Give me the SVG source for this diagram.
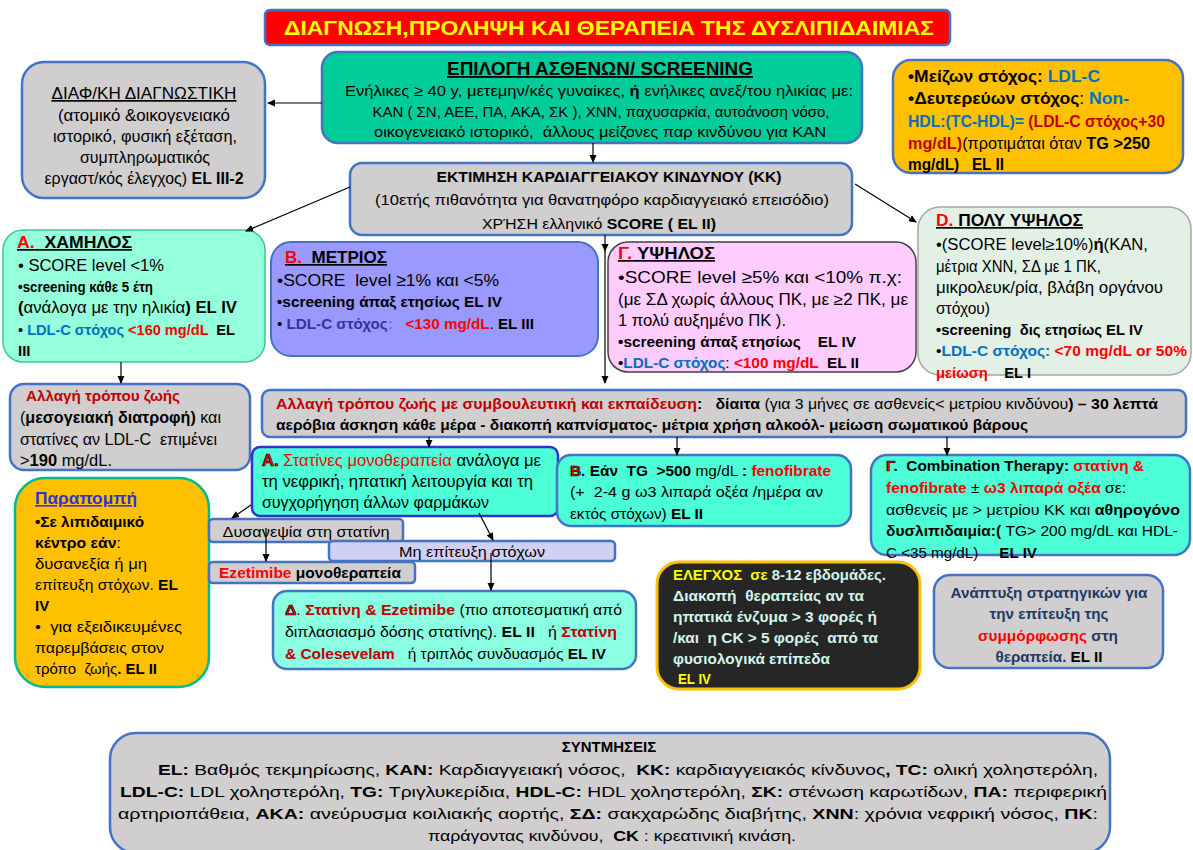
<svg xmlns="http://www.w3.org/2000/svg" width="1193" height="850" viewBox="0 0 1193 850">
<defs>
<style>
text{font-family:'Liberation Sans','DejaVu Sans',sans-serif;font-size:16px;fill:#000;white-space:pre}
.b{font-weight:bold}
.bt{font-weight:bold;font-size:15px}
.n{font-weight:normal}
.u{text-decoration:underline}
.r{fill:#ff0000}
.dr{fill:#c00000}
.bl{fill:#0070c0}
.ol{fill:#ff0000;stroke:#000;stroke-width:0.7;font-weight:bold}
.gray{fill:#d0cece;stroke:#4472c4;stroke-width:2.5}
.aqua{fill:#4dffd6;stroke:#4472c4;stroke-width:2.5}
.c{text-anchor:middle}
.mint{fill:#d2f5ec}
.sm{font-size:15px}
.xs{font-size:14px}
.ln{stroke:#000;stroke-width:1.2;fill:none;marker-end:url(#ah)}
</style>
<marker id="ah" markerWidth="8" markerHeight="8" refX="7" refY="4" orient="auto" markerUnits="userSpaceOnUse">
<path d="M0,0.5 L8,4 L0,7.5 z" fill="#000"/>
</marker>
</defs>
<rect width="1193" height="850" fill="#ffffff"/>

<g id="title">
<rect x="265" y="10" width="685" height="35" rx="5" fill="#ff0000" stroke="#4472c4" stroke-width="2.5"/>
<text x="609" y="35" class="b c" style="font-size:20px;fill:#ffff00" textLength="650" lengthAdjust="spacingAndGlyphs">ΔΙΑΓΝΩΣΗ,ΠΡΟΛΗΨΗ ΚΑΙ ΘΕΡΑΠΕΙΑ ΤΗΣ ΔΥΣΛΙΠΙΔΑΙΜΙΑΣ</text>
</g>

<g id="screening">
<rect x="322" y="52" width="540" height="91" rx="16" fill="#00cc99" stroke="#4472c4" stroke-width="2.5"/>
<text x="600" y="75" class="b u c" style="font-size:18px" textLength="306" lengthAdjust="spacingAndGlyphs">ΕΠΙΛΟΓΗ ΑΣΘΕΝΩΝ/ SCREENING</text>
<text x="599" y="96" class="c sm" textLength="508" lengthAdjust="spacingAndGlyphs">Ενήλικες ≥ 40 y, μετεμην/κές γυναίκες, <tspan class="b">ή</tspan> ενήλικες ανεξ/του ηλικίας με:</text>
<text x="601" y="117" class="c sm" textLength="457" lengthAdjust="spacingAndGlyphs">ΚΑΝ ( ΣΝ, ΑΕΕ, ΠΑ, ΑΚΑ, ΣΚ ), ΧΝΝ, παχυσαρκία, αυτοάνοση νόσο,</text>
<text x="600" y="137" class="c sm" textLength="452" lengthAdjust="spacingAndGlyphs">οικογενειακό ιστορικό,  άλλους μείζονες παρ κινδύνου για ΚΑΝ</text>
</g>

<g id="diagnostic">
<rect x="22" y="62" width="243" height="136" rx="22" class="gray"/>
<text x="144" y="99" class="u c" style="font-size:17px" textLength="185" lengthAdjust="spacingAndGlyphs">ΔΙΑΦ/ΚΗ ΔΙΑΓΝΩΣΤΙΚΗ</text>
<text x="144" y="121" class="c" textLength="172" lengthAdjust="spacingAndGlyphs">(ατομικό &amp;οικογενειακό</text>
<text x="145" y="142" class="c" textLength="184" lengthAdjust="spacingAndGlyphs">ιστορικό, φυσική εξέταση,</text>
<text x="145" y="163" class="c" textLength="130" lengthAdjust="spacingAndGlyphs">συμπληρωματικός</text>
<text x="144" y="184" class="c" textLength="199" lengthAdjust="spacingAndGlyphs">εργαστ/κός έλεγχος) <tspan class="b">EL III-2</tspan></text>
</g>

<g id="goals">
<rect x="893" y="60" width="290" height="113" rx="18" fill="#ffc000" stroke="#4472c4" stroke-width="2.5"/>
<text x="908" y="82" class="b" textLength="192" lengthAdjust="spacingAndGlyphs">•Μείζων στόχος: <tspan class="bl">LDL-C</tspan></text>
<text x="908" y="104" class="b" textLength="221" lengthAdjust="spacingAndGlyphs">•Δευτερεύων στόχος<tspan class="n">:</tspan> <tspan class="bl">Non-</tspan></text>
<text x="908" y="127" class="b" textLength="257" lengthAdjust="spacingAndGlyphs"><tspan class="bl">HDL:(TC-HDL)=</tspan> <tspan class="dr">(LDL-C στόχος+30</tspan></text>
<text x="908" y="149" class="b" textLength="242" lengthAdjust="spacingAndGlyphs"><tspan class="dr">mg/dL)</tspan><tspan class="n">(προτιμάται όταν </tspan>TG &gt;250</text>
<text x="908" y="170" class="b" textLength="96" lengthAdjust="spacingAndGlyphs">mg/dL)   EL II</text>
</g>

<g id="risk">
<rect x="350" y="163" width="502" height="72" rx="12" class="gray"/>
<text x="609" y="182" class="b c sm" textLength="345" lengthAdjust="spacingAndGlyphs">ΕΚΤΙΜΗΣΗ ΚΑΡΔΙΑΓΓΕΙΑΚΟΥ ΚΙΝΔΥΝΟΥ (ΚΚ)</text>
<text x="602" y="205" class="c sm" textLength="454" lengthAdjust="spacingAndGlyphs">(10ετής πιθανότητα για θανατηφόρο καρδιαγγειακό επεισόδιο)</text>
<text x="599" y="229" class="c sm" textLength="234" lengthAdjust="spacingAndGlyphs">ΧΡΉΣΗ ελληνικό <tspan class="b">SCORE ( EL II)</tspan></text>
</g>

<g id="low">
<rect x="3" y="230" width="262" height="132" rx="20" fill="#96ffdb" stroke="#3cc89a" stroke-width="1.5"/>
<text x="17" y="248" class="b u" style="font-size:17px" textLength="115" lengthAdjust="spacingAndGlyphs"><tspan class="r">A.</tspan>  ΧΑΜΗΛΟΣ</text>
<text x="18" y="271" style="font-size:17px" textLength="146" lengthAdjust="spacingAndGlyphs">• SCORE level &lt;1%</text>
<text x="18" y="292" class="bt" textLength="135" lengthAdjust="spacingAndGlyphs">•screening κάθε 5 έτη</text>
<text x="18" y="313" textLength="219" lengthAdjust="spacingAndGlyphs"><tspan class="b">(</tspan>ανάλογα με την ηλικία<tspan class="b">) EL IV</tspan></text>
<text x="18" y="335" class="bt" textLength="217" lengthAdjust="spacingAndGlyphs"><tspan class="n">• </tspan><tspan class="bl">LDL-C στόχος</tspan> <tspan class="r">&lt;160 mg/dL</tspan>  EL</text>
<text x="18" y="356" class="bt">III</text>
</g>

<g id="moderate">
<rect x="271" y="242" width="327" height="114" rx="20" fill="#9999ff" stroke="#4472c4" stroke-width="2"/>
<text x="285" y="263" class="b u" style="font-size:17px" textLength="102" lengthAdjust="spacingAndGlyphs"><tspan class="r">B.</tspan>  ΜΕΤΡΙΟΣ</text>
<text x="277" y="286" style="font-size:17px" textLength="222" lengthAdjust="spacingAndGlyphs">•SCORE  level ≥1% και &lt;5%</text>
<text x="277" y="307" class="bt" textLength="225" lengthAdjust="spacingAndGlyphs">•screening άπαξ ετησίως EL IV</text>
<text x="277" y="329" class="bt" textLength="257" lengthAdjust="spacingAndGlyphs"><tspan class="n">• </tspan><tspan style="fill:#333399">LDL-C στόχος</tspan><tspan style="fill:#3399cc">:</tspan>   <tspan class="r">&lt;130 mg/dL</tspan><tspan class="n">.</tspan> EL III</text>
</g>

<g id="high">
<rect x="608" y="242" width="308" height="130" rx="20" fill="#ffccff" stroke="#404040" stroke-width="1.5"/>
<text x="618" y="259" class="b u" style="font-size:17px" textLength="97" lengthAdjust="spacingAndGlyphs"><tspan class="r">Γ.</tspan> ΥΨΗΛΟΣ</text>
<text x="618" y="283" style="font-size:17px" textLength="284" lengthAdjust="spacingAndGlyphs">•SCORE level ≥5% και &lt;10% π.χ:</text>
<text x="618" y="305" textLength="290" lengthAdjust="spacingAndGlyphs">(με ΣΔ χωρίς άλλους ΠΚ, με ≥2 ΠΚ, με</text>
<text x="618" y="326" textLength="168" lengthAdjust="spacingAndGlyphs">1 πολύ αυξημένο ΠΚ ).</text>
<text x="618" y="347" class="bt" textLength="238" lengthAdjust="spacingAndGlyphs">•screening άπαξ ετησίως    EL IV</text>
<text x="618" y="368" class="bt" textLength="241" lengthAdjust="spacingAndGlyphs"><tspan class="n">•</tspan><tspan class="bl">LDL-C στόχος</tspan><tspan class="n">: </tspan><tspan class="r">&lt;100 mg/dL</tspan>  EL II</text>
</g>

<g id="veryhigh">
<rect x="918" y="207" width="273" height="168" rx="22" fill="#e2f0e5" stroke="#a6a6a6" stroke-width="1.5"/>
<text x="936" y="226" class="b u" style="font-size:17px" textLength="147" lengthAdjust="spacingAndGlyphs"><tspan class="r">D.</tspan> ΠΟΛΥ ΥΨΗΛΟΣ</text>
<text x="936" y="250" textLength="212" lengthAdjust="spacingAndGlyphs">•(SCORE level≥10%)<tspan class="b">ή</tspan>(ΚΑΝ,</text>
<text x="936" y="272" textLength="165" lengthAdjust="spacingAndGlyphs">μέτρια ΧΝΝ, ΣΔ με 1 ΠΚ,</text>
<text x="936" y="293" textLength="227" lengthAdjust="spacingAndGlyphs">μικρολευκ/ρία, βλάβη οργάνου</text>
<text x="936" y="314" textLength="54" lengthAdjust="spacingAndGlyphs">στόχου)</text>
<text x="936" y="335" class="bt" textLength="207" lengthAdjust="spacingAndGlyphs">•screening  δις ετησίως EL IV</text>
<text x="936" y="356" class="bt" textLength="251" lengthAdjust="spacingAndGlyphs"><tspan class="n">•</tspan><tspan class="bl">LDL-C στόχος:</tspan> <tspan class="r">&lt;70 mg/dL or 50%</tspan></text>
<text x="936" y="378" class="bt" textLength="95" lengthAdjust="spacingAndGlyphs"><tspan class="r">μείωση</tspan>    EL I</text>
</g>

<g id="lifestyle-low">
<rect x="10" y="384" width="240" height="86" rx="14" class="gray"/>
<text x="26" y="401" class="bt dr" textLength="154" lengthAdjust="spacingAndGlyphs">Αλλαγή τρόπου ζωής</text>
<text x="20" y="423" textLength="201" lengthAdjust="spacingAndGlyphs">(<tspan class="b">μεσογειακή διατροφή)</tspan> και</text>
<text x="20" y="445" textLength="197" lengthAdjust="spacingAndGlyphs">στατίνες αν LDL-C  επιμένει</text>
<text x="20" y="466" textLength="92" lengthAdjust="spacingAndGlyphs">&gt;<tspan class="b">190</tspan> mg/dL.</text>
</g>

<g id="lifestyle">
<rect x="262" y="390" width="924" height="47" rx="8" class="gray"/>
<text x="276" y="409" class="bt" textLength="882" lengthAdjust="spacingAndGlyphs"><tspan class="dr">Αλλαγή τρόπου ζωής με συμβουλευτική και εκπαίδευση</tspan>:   δίαιτα <tspan class="n">(για 3 μήνες σε ασθενείς&lt; μετρίου κινδύνου</tspan>) – 30 λεπτά</text>
<text x="276" y="430" class="bt" textLength="752" lengthAdjust="spacingAndGlyphs">αερόβια άσκηση κάθε μέρα - διακοπή καπνίσματος- μέτρια χρήση αλκοόλ- μείωση σωματικού βάρους</text>
</g>

<g id="statin">
<rect x="252" y="447" width="306" height="69" rx="8" fill="#4dffd6" stroke="#3333cc" stroke-width="2.5"/>
<text x="262" y="466" textLength="279" lengthAdjust="spacingAndGlyphs"><tspan class="ol">Α.</tspan> <tspan class="r">Στατίνες μονοθεραπεία</tspan> ανάλογα με</text>
<text x="262" y="487" textLength="271" lengthAdjust="spacingAndGlyphs">τη νεφρική, ηπατική λειτουργία και τη</text>
<text x="262" y="508" textLength="227" lengthAdjust="spacingAndGlyphs">συγχορήγηση άλλων φαρμάκων</text>
</g>

<g id="fenofibrate">
<rect x="557" y="455" width="294" height="71" rx="14" class="aqua"/>
<text x="570" y="476" class="bt" textLength="261" lengthAdjust="spacingAndGlyphs"><tspan class="ol">B</tspan>. Εάν  TG  &gt;500<tspan class="n"> mg/dL </tspan>: <tspan class="r">fenofibrate</tspan></text>
<text x="570" y="497" class="sm" textLength="253" lengthAdjust="spacingAndGlyphs">(+  2-4 g ω3 λιπαρά οξέα /ημέρα αν</text>
<text x="570" y="519" class="sm" textLength="133" lengthAdjust="spacingAndGlyphs">εκτός στόχων) <tspan class="b">EL II</tspan></text>
</g>

<g id="combination">
<rect x="871" y="455" width="319" height="100" rx="16" class="aqua"/>
<text x="886" y="471" class="bt" textLength="258" lengthAdjust="spacingAndGlyphs"><tspan class="ol">Γ</tspan>.  Combination Therapy: <tspan class="r">στατίνη &amp;</tspan></text>
<text x="886" y="493" class="bt" textLength="240" lengthAdjust="spacingAndGlyphs"><tspan class="r">fenofibrate</tspan><tspan class="n"> ± </tspan><tspan class="r">ω3 λιπαρά οξέα</tspan><tspan class="n"> σε:</tspan></text>
<text x="886" y="515" class="sm" textLength="294" lengthAdjust="spacingAndGlyphs">ασθενείς με &gt; μετρίου ΚΚ και <tspan class="b">αθηρογόνο</tspan></text>
<text x="886" y="536" class="sm" textLength="292" lengthAdjust="spacingAndGlyphs"><tspan class="b">δυσλιπιδαιμία:(</tspan> TG&gt; 200 mg/dL και HDL-</text>
<text x="886" y="558" class="xs" textLength="151" lengthAdjust="spacingAndGlyphs">C &lt;35 mg/dL)     <tspan class="b">EL IV</tspan></text>
</g>

<g id="referral">
<rect x="15" y="478" width="194" height="209" rx="30" fill="#ffc000" stroke="#00b894" stroke-width="2.5"/>
<text x="35" y="504" class="b u" style="font-size:16px;fill:#3333cc" textLength="102" lengthAdjust="spacingAndGlyphs">Παραπομπή</text>
<text x="35" y="527" class="bt" textLength="109" lengthAdjust="spacingAndGlyphs">•Σε λιπιδαιμικό</text>
<text x="35" y="548" class="bt" textLength="86" lengthAdjust="spacingAndGlyphs">κέντρο εάν<tspan class="n">:</tspan></text>
<text x="35" y="569" class="sm" textLength="112" lengthAdjust="spacingAndGlyphs">δυσανεξία ή μη</text>
<text x="35" y="590" class="sm" textLength="143" lengthAdjust="spacingAndGlyphs">επίτευξη στόχων. <tspan class="b">EL</tspan></text>
<text x="35" y="611" class="bt">IV</text>
<text x="35" y="632" class="sm" textLength="147" lengthAdjust="spacingAndGlyphs">•  για εξειδικευμένες</text>
<text x="35" y="653" class="sm" textLength="129" lengthAdjust="spacingAndGlyphs">παρεμβάσεις στον</text>
<text x="35" y="674" class="sm" textLength="122" lengthAdjust="spacingAndGlyphs">τρόπο  ζωής<tspan class="b">. EL II</tspan></text>
</g>

<g id="intolerance">
<rect x="209" y="519" width="194" height="23" rx="4" class="gray"/>
<text x="306" y="537" class="c sm" textLength="167" lengthAdjust="spacingAndGlyphs">Δυσανεψία στη στατίνη</text>
</g>

<g id="not-achieved">
<rect x="329" y="541" width="286" height="20" rx="4" fill="#d0d0f4" stroke="#4472c4" stroke-width="2.5"/>
<text x="472" y="557" class="c" style="font-size:14.5px" textLength="146" lengthAdjust="spacingAndGlyphs">Μη επίτευξη στόχων</text>
</g>

<g id="ezetimibe">
<rect x="209" y="562" width="206" height="21" rx="4" class="gray"/>
<text x="219" y="578" class="bt" style="font-size:14.5px" textLength="182" lengthAdjust="spacingAndGlyphs"><tspan class="r">Ezetimibe</tspan> μονοθεραπεία</text>
</g>

<g id="combo-ezetimibe">
<rect x="273" y="591" width="363" height="78" rx="14" fill="#8affe1" stroke="#4472c4" stroke-width="2.5"/>
<text x="285" y="615" class="sm" textLength="337" lengthAdjust="spacingAndGlyphs"><tspan class="ol">Δ</tspan>. <tspan class="b dr">Στατίνη &amp; Ezetimibe</tspan> (πιο αποτεσματική από</text>
<text x="285" y="637" class="sm" textLength="332" lengthAdjust="spacingAndGlyphs">διπλασιασμό δόσης στατίνης). <tspan class="b">EL II</tspan>   ή <tspan class="b dr">Στατίνη</tspan></text>
<text x="285" y="659" class="sm" textLength="321" lengthAdjust="spacingAndGlyphs"><tspan class="b dr">&amp; Colesevelam</tspan>   ή τριπλός συνδυασμός <tspan class="b">EL IV</tspan></text>
</g>

<g id="monitoring">
<rect x="657" y="562" width="263" height="127" rx="22" fill="#262626" stroke="#ffc000" stroke-width="3"/>
<text x="673" y="580" class="bt mint" textLength="213" lengthAdjust="spacingAndGlyphs"><tspan style="fill:#ffff00">ΕΛΕΓΧΟΣ  σε</tspan> 8-12 εβδομάδες.</text>
<text x="673" y="601" class="bt mint" textLength="191" lengthAdjust="spacingAndGlyphs">Διακοπή  θεραπείας αν τα</text>
<text x="673" y="622" class="bt mint" textLength="204" lengthAdjust="spacingAndGlyphs">ηπατικά ένζυμα &gt; 3 φορές ή</text>
<text x="673" y="643" class="bt mint" textLength="205" lengthAdjust="spacingAndGlyphs">/και  η CK &gt; 5 φορές  από τα</text>
<text x="673" y="664" class="bt mint" textLength="157" lengthAdjust="spacingAndGlyphs">φυσιολογικά επίπεδα</text>
<text x="678" y="684" class="bt" style="fill:#ffff00" textLength="33" lengthAdjust="spacingAndGlyphs">EL IV</text>
</g>

<g id="adherence">
<rect x="934" y="575" width="229" height="93" rx="16" class="gray"/>
<text x="1049" y="598" class="bt c" style="fill:#1f3864" textLength="197" lengthAdjust="spacingAndGlyphs">Ανάπτυξη στρατηγικών για</text>
<text x="1049" y="619" class="bt c" style="fill:#1f3864" textLength="119" lengthAdjust="spacingAndGlyphs">την επίτευξη της</text>
<text x="1048" y="641" class="bt c" style="fill:#1f3864" textLength="140" lengthAdjust="spacingAndGlyphs"><tspan class="r">συμμόρφωσης</tspan> στη</text>
<text x="1049" y="662" class="bt c" style="fill:#1f3864" textLength="107" lengthAdjust="spacingAndGlyphs">θεραπεία. <tspan style="fill:#000">EL II</tspan></text>
</g>

<g id="abbreviations">
<rect x="110" y="733" width="1000" height="120" rx="26" class="gray"/>
<text x="609" y="752" class="b c sm">ΣΥΝΤΜΗΣΕΙΣ</text>
<text x="158" y="775" class="sm" textLength="940" lengthAdjust="spacingAndGlyphs"><tspan class="b">EL:</tspan> Βαθμός τεκμηρίωσης, <tspan class="b">ΚΑΝ:</tspan> Καρδιαγγειακή νόσος,  <tspan class="b">ΚΚ:</tspan> καρδιαγγειακός κίνδυνος<tspan class="b">, TC:</tspan> ολική χοληστερόλη,</text>
<text x="120" y="797" class="sm" textLength="987" lengthAdjust="spacingAndGlyphs"><tspan class="b">LDL-C:</tspan> LDL χοληστερόλη, <tspan class="b">TG:</tspan> Τριγλυκερίδια, <tspan class="b">HDL-C:</tspan> HDL χοληστερόλη, <tspan class="b">ΣΚ:</tspan> στένωση καρωτίδων, <tspan class="b">ΠΑ:</tspan> περιφερική</text>
<text x="118" y="819" class="sm" textLength="980" lengthAdjust="spacingAndGlyphs">αρτηριοπάθεια, <tspan class="b">ΑΚΑ:</tspan> ανεύρυσμα κοιλιακής αορτής, <tspan class="b">ΣΔ:</tspan> σακχαρώδης διαβήτης, <tspan class="b">ΧΝΝ</tspan>: χρόνια νεφρική νόσος, <tspan class="b">ΠΚ</tspan>:</text>
<text x="428" y="841" class="sm" textLength="368" lengthAdjust="spacingAndGlyphs">παράγοντας κινδύνου,  <tspan class="b">CK</tspan> : κρεατινική κινάση.</text>
</g>

<g id="connectors">
<path class="ln" d="M322,103 L268,103"/>
<path class="ln" d="M593,143 L593,162"/>
<path class="ln" d="M350,187 L246,231"/>
<path class="ln" d="M855,184 L916,222"/>
<path class="ln" d="M605,235 L605,251"/>
<path class="ln" d="M605,251 L605,383"/>
<path class="ln" d="M121,362 L121,383"/>
<path class="ln" d="M429,437 L429,447"/>
<path class="ln" d="M677,437 L677,455"/>
<path class="ln" d="M947,437 L947,455"/>
<path class="ln" d="M251,505 L232,518"/>
<path class="ln" d="M479,513 L493,540"/>
<path class="ln" d="M266,528 L266,561"/>
<path class="ln" d="M491,553 L491,590"/>
</g>
</svg>
